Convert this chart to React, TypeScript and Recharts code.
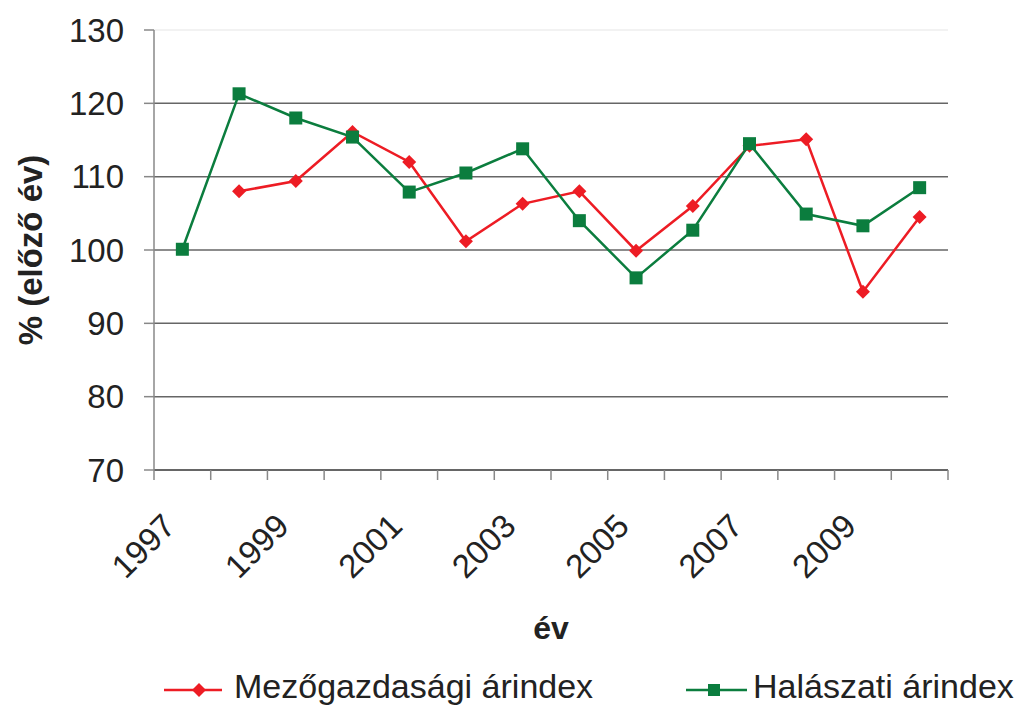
import { LineChart, Line, XAxis, YAxis, CartesianGrid, ReferenceLine, Legend } from "recharts";

const years = [1997, 1998, 1999, 2000, 2001, 2002, 2003, 2004, 2005, 2006, 2007, 2008, 2009, 2010];
const mezogazdasagi = [null, 108, 109.4, 116.1, 112, 101.2, 106.3, 108, 99.9, 106, 114.2, 115.1, 94.3, 104.5];
const halaszati = [100.1, 121.3, 118, 115.4, 107.9, 110.5, 113.8, 104, 96.2, 102.7, 114.5, 104.9, 103.3, 108.5];
const labelYears = [1997, 1999, 2001, 2003, 2005, 2007, 2009];
const boundaries = [1996.5, 1997.5, 1998.5, 1999.5, 2000.5, 2001.5, 2002.5, 2003.5, 2004.5, 2005.5, 2006.5, 2007.5, 2008.5, 2009.5, 2010.5];
const yTicks = [70, 80, 90, 100, 110, 120, 130];
const gridValues = [80, 90, 100, 110, 120];

const data = years.map((year, i) => ({
  year,
  mezo: mezogazdasagi[i],
  hal: halaszati[i],
}));

const RED = "#ed1c24";
const GREEN = "#0b7d3e";
const FONT = "'Liberation Sans', Arial, sans-serif";

const Diamond = (props: any) => {
  const { cx, cy } = props;
  if (cx == null || cy == null) return null;
  const r = 7;
  return <path d={`M${cx},${cy - r}L${cx + r},${cy}L${cx},${cy + r}L${cx - r},${cy}Z`} fill={RED} />;
};

const Square = (props: any) => {
  const { cx, cy } = props;
  if (cx == null || cy == null) return null;
  const r = 6.5;
  return <rect x={cx - r} y={cy - r} width={r * 2} height={r * 2} fill={GREEN} />;
};

// rotated year labels, end of text sits under the category
const YearTick = ({ x, y, payload }: any) => {
  const ax = x - 5;
  const ay = y + 57;
  return (
    <text x={ax} y={ay} transform={`rotate(-45 ${ax} ${ay})`} textAnchor="end" fontSize={33} fill="#222" fontFamily={FONT}>
      {payload.value}
    </text>
  );
};

const LegendBox = () => (
  <div style={{ position: "relative", height: 56 }}>
    <svg width={1022} height={56} style={{ position: "absolute", left: 0, top: 0 }}>
      <line x1={164} y1={40} x2={222} y2={40} stroke={RED} strokeWidth={2.5} />
      <path d="M199,33L206,40L199,47L192,40Z" fill={RED} />
      <line x1={686} y1={40} x2={747} y2={40} stroke={GREEN} strokeWidth={2.5} />
      <rect x={708} y={34} width={12} height={12} fill={GREEN} />
      <text x={234} y={48} fontSize={34} fill="#222" fontFamily={FONT}>Mezőgazdasági árindex</text>
      <text x={753} y={48} fontSize={34} fill="#222" fontFamily={FONT}>Halászati árindex</text>
    </svg>
  </div>
);

export default function App() {
  return (
    <div style={{ position: "absolute", left: 0, top: 0, background: "#fff" }}>
      <LineChart width={1022} height={706} data={data} margin={{ top: 30, right: 74, left: 0, bottom: 0 }}>
        <CartesianGrid vertical={false} horizontalValues={gridValues} stroke="#666" strokeWidth={1.5} />
        <ReferenceLine xAxisId="a" y={130} stroke="#eee" strokeWidth={1.5} />
        <XAxis
          xAxisId="a"
          dataKey="year"
          type="number"
          domain={[1996.5, 2010.5]}
          ticks={boundaries}
          height={1}
          tick={() => <g />}
          tickSize={10}
          tickLine={{ stroke: "#888", strokeWidth: 1.5 }}
          axisLine={{ stroke: "#333", strokeWidth: 1.5 }}
        />
        <XAxis
          xAxisId="b"
          dataKey="year"
          type="number"
          domain={[1996.5, 2010.5]}
          ticks={labelYears}
          height={179}
          axisLine={false}
          tickLine={false}
          tickSize={0}
          tickMargin={0}
          tick={<YearTick />}
          label={(props: any) => {
            const vb = props.viewBox;
            return (
              <text x={vb.x + vb.width / 2} y={vb.y + 168} textAnchor="middle" fontSize={32} fontWeight="bold" fill="#222" fontFamily={FONT}>
                év
              </text>
            );
          }}
        />
        <YAxis
          domain={[70, 130]}
          ticks={yTicks}
          width={154}
          tickSize={10}
          tickMargin={20}
          tickLine={{ stroke: "#888", strokeWidth: 1.5 }}
          axisLine={{ stroke: "#888", strokeWidth: 1.5 }}
          tick={{ fontSize: 33, fill: "#222", fontFamily: FONT }}
          label={(props: any) => {
            const vb = props.viewBox;
            const cx = 30;
            const cy = vb.y + vb.height / 2;
            return (
              <text x={cx} y={cy} transform={`rotate(-90 ${cx} ${cy})`} textAnchor="middle" dominantBaseline="central" fontSize={33} fontWeight="bold" fill="#222" fontFamily={FONT}>
                % (előző év)
              </text>
            );
          }}
        />
        <Line xAxisId="a" dataKey="mezo" stroke={RED} strokeWidth={2.5} dot={<Diamond />} activeDot={false} isAnimationActive={false} connectNulls={false} />
        <Line xAxisId="a" dataKey="hal" stroke={GREEN} strokeWidth={2.5} dot={<Square />} activeDot={false} isAnimationActive={false} />
        <Legend verticalAlign="bottom" height={56} content={() => <LegendBox />} />
      </LineChart>
    </div>
  );
}
